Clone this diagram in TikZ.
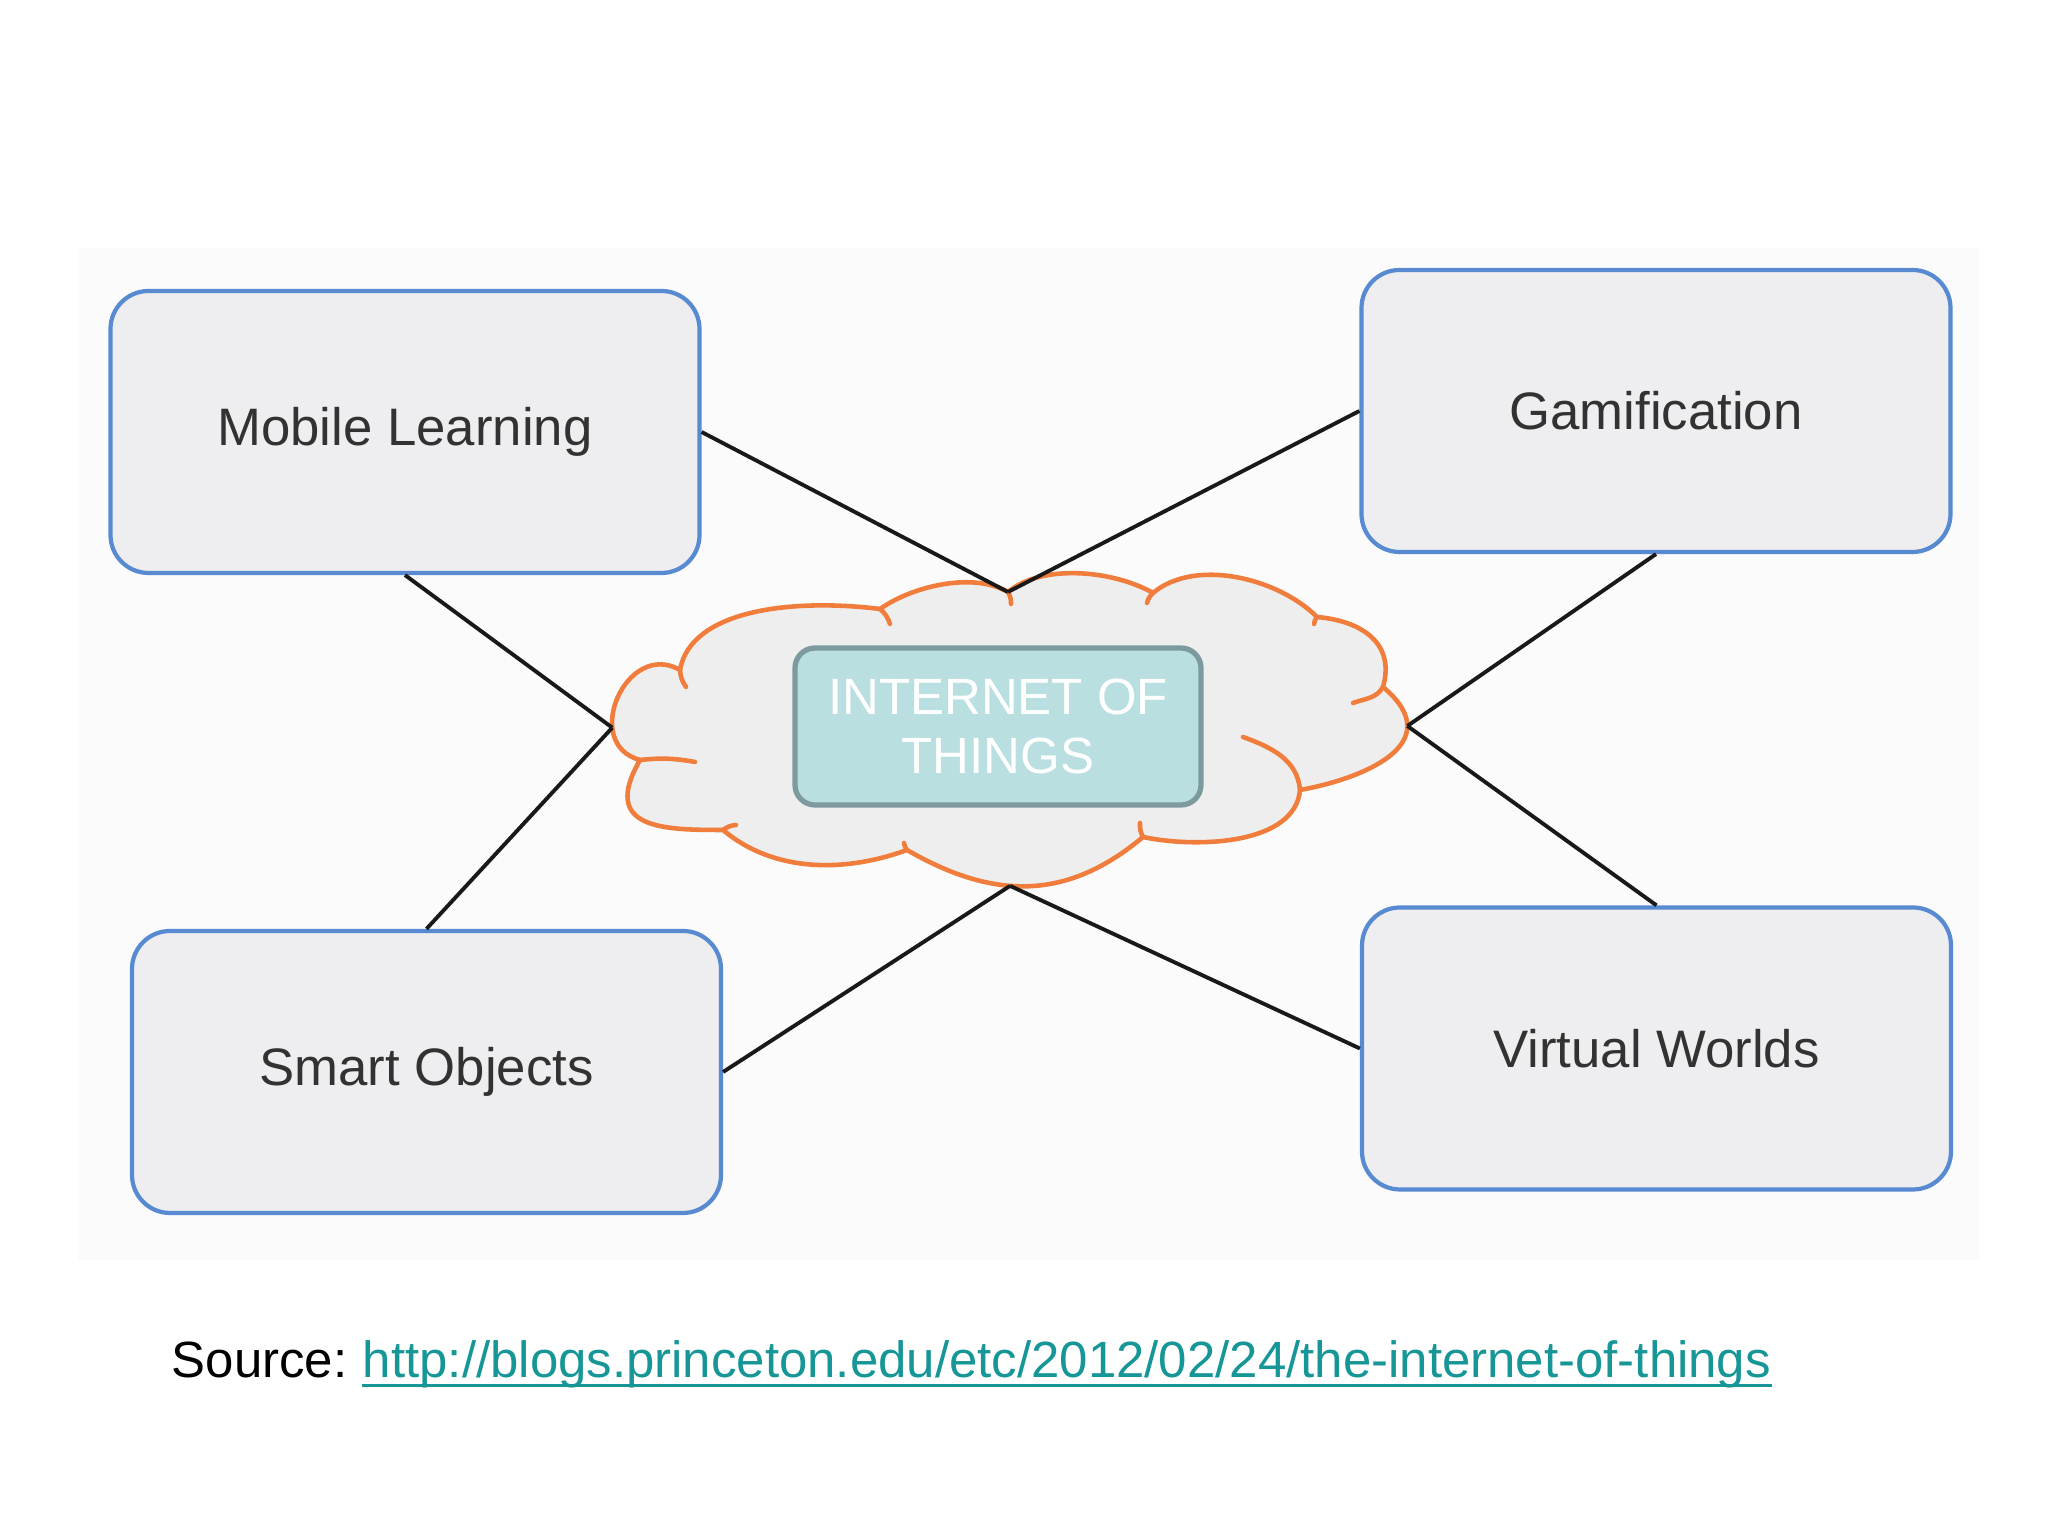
\documentclass[tikz,border=0pt]{standalone}
\usepackage{fontspec}
\setmainfont{Liberation Sans}
\usepackage{xcolor}
\usepackage{tikz}

\definecolor{boxblue}{RGB}{88,138,210}
\definecolor{boxfill}{RGB}{238,238,240}
\definecolor{textgray}{RGB}{50,50,50}
\definecolor{cloudorange}{RGB}{240,125,60}
\definecolor{cloudfill}{RGB}{238,238,238}
\definecolor{corefill}{RGB}{186,223,224}
\definecolor{coreedge}{RGB}{125,155,158}
\definecolor{linkteal}{RGB}{22,150,150}

\begin{document}
\begin{tikzpicture}[
				font=\fontsize{15pt}{18pt}\selectfont,
				topic/.style={
					rectangle, rounded corners=0.38cm,
					draw=boxblue, fill=boxfill, line width=1.2pt,
					minimum width=5.89cm, minimum height=2.82cm,
					text=textgray, inner sep=0pt
				},
				core/.style={
					rectangle, rounded corners=0.2cm,
					draw=coreedge, fill=corefill, line width=1.5pt,
					minimum width=4.06cm, minimum height=1.57cm,
					text=white, align=center, inner sep=0pt,
					font=\fontsize{14.5pt}{17pt}\selectfont
				},
				puff/.style={draw=cloudorange, line width=1.3pt, line join=round, line cap=round},
				arr/.style={line width=1.1pt, black!90},
				srcnode/.style={anchor=base west, inner sep=0pt, font=\fontsize{14.5pt}{17pt}\selectfont}
				]
				\useasboundingbox (0,0) rectangle (20.48,15.36);
				\fill[black!1.5] (0.78,2.76) rectangle (19.79,12.88);
				
				\node[topic] (mobile) at (4.05, 11.04) {Mobile Learning};
				\node[topic] (gamif) at (16.56, 11.25) {Gamification};
				\node[topic] (smart) at (4.265, 4.64) {Smart Objects};
				\node[topic] (virtual) at (16.565, 4.875) {Virtual Worlds};
				
				\coordinate (c1) at (10.08, 9.44);
				\coordinate (c2) at (11.53, 9.43);
				\coordinate (c3) at (13.17, 9.19);
				\coordinate (c4) at (13.83, 8.49);
				\coordinate (c5) at (13.00, 7.46);
				\coordinate (c6) at (11.43, 6.99);
				\coordinate (c7) at (9.07, 6.86);
				\coordinate (c8) at (7.23, 7.06);
				\coordinate (c9) at (6.40, 7.76);
				\coordinate (c10) at (6.80, 8.66);
				\coordinate (c11) at (8.80, 9.27);
				\filldraw[puff, fill=cloudfill] (c1) to[out=40, in=150, looseness=0.79] (c2)
					to[out=40, in=135, looseness=0.85] (c3)
					to[out=-5, in=74, looseness=1.2] (c4)
					to[out=-40, in=10, out looseness=1.74, in looseness=1.16] node[coordinate, pos=0.25] (cright) {} (c5)
					to[out=-95, in=-12, looseness=0.86] (c6)
					to[out=220, in=-30, looseness=1.08] node[coordinate, pos=0.58] (cbot) {} (c7)
					to[out=200, in=-40, looseness=0.92] (c8)
					to[out=180, in=240, out looseness=1.41, in looseness=1.88] (c9)
					to[out=165, in=150, looseness=1.6] node[coordinate, pos=0.3] (cleft) {} (c10)
					to[out=80, in=173, out looseness=0.74, in looseness=1.1] (c11)
					to[out=35, in=150, looseness=0.8] (c1);
				\draw[puff] (c1) to[bend left=15] ++(0.03,-0.12);
				\draw[puff] (c2) to[bend right=15] ++(-0.06,-0.10);
				\draw[puff] (c3) to[bend right=15] ++(-0.03,-0.07);
				\draw[puff] (c4) to[out=240, in=20] ++(-0.30,-0.16);
				\draw[puff] (c5) to[out=95, in=-20] ++(-0.57,0.53);
				\draw[puff] (c6) to[bend left=15] ++(-0.03,0.14);
				\draw[puff] (c7) to[bend left=15] ++(-0.03,0.07);
				\draw[puff] (c8) to[bend left=15] ++(0.13,0.05);
				\draw[puff] (c9) to[bend left=8] ++(0.55,-0.02);
				\draw[puff] (c10) to[bend right=15] ++(0.06,-0.17);
				\draw[puff] (c11) to[bend left=15] ++(0.10,-0.15);
				
				\draw[arr] (mobile.east) -- (c1);
				\draw[arr] (gamif.west) -- (c1);
				\draw[arr] (mobile.south) -- (cleft);
				\draw[arr] (smart.north) -- (cleft);
				\draw[arr] (gamif.south) -- (cright);
				\draw[arr] (virtual.north) -- (cright);
				\draw[arr] (smart.east) -- (cbot);
				\draw[arr] (virtual.west) -- (cbot);
				
				\node[core] (iot) at (9.98, 8.095) {INTERNET OF\\THINGS};
				
				\node[srcnode] (src) at (1.71, 1.58) {Source:};
				\node[srcnode, text=linkteal] (url) at ([xshift=4.03pt]src.base east) {http://blogs.princeton.edu/etc/2012/02/24/the-internet-of-things};
				\draw[linkteal, line width=0.9pt] ([yshift=-2.2pt]url.base west) -- ([yshift=-2.2pt]url.base east);
		\end{tikzpicture}
\end{document}
